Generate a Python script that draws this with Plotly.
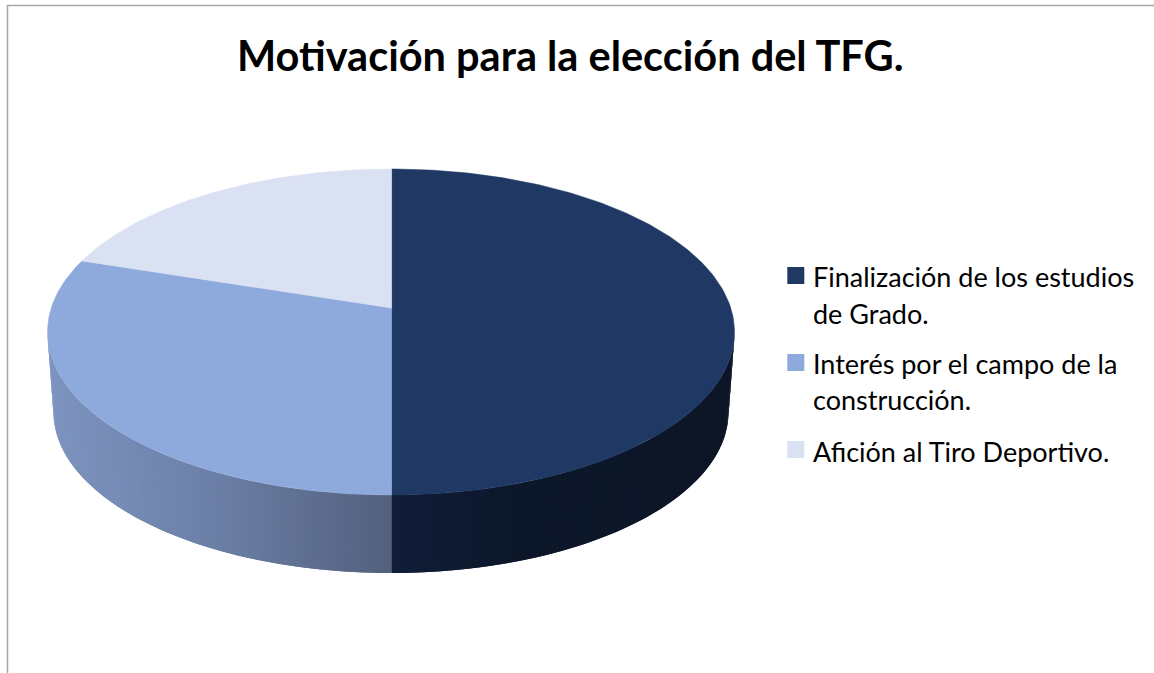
import math
import plotly.graph_objects as go

title = "Motivación para la elección del TFG."
categories = ["Finalización de los estudios de Grado.", "Interés por el campo de la construcción.", "Afición al Tiro Deportivo."]
values = [50, 30, 20]
top_colors = ["#1F3864", "#8EA9DB", "#D9E1F2"]
legend_colors = ["#1F3864", "#8EA9DB", "#D9E2F3"]
legend_lines = [["Finalización de los estudios", "de Grado."], ["Interés por el campo de la", "construcción."], ["Afición al Tiro Deportivo."]]

# canvas-sized data space
W, H = 1154, 673
CX, TOP_CY, TOP_RY, TOP_RX = 391.0, 332.0, 163.0, 343.5
BOT_CY, BOT_RX, BOT_RY = 412.0, 337.5, 161.0
B = 0.147  # perspective shift of the pie centre
SPLIT_X = 391.6  # x of the vertical seam between the slices

# side shading stops: (x, rgb)
side_mid = [(50, (125, 148, 192)), (220, (107, 126, 165)), (391, (83, 96, 126))]
side_dark = [(391, (16, 29, 56)), (520, (12, 23, 42)), (730, (13, 22, 38))]


def shade(stops, x):
    x = max(stops[0][0], min(stops[-1][0], x))
    for (x0, c0), (x1, c1) in zip(stops, stops[1:]):
        if x0 <= x <= x1:
            f = (x - x0) / (x1 - x0)
            return "rgb(%d,%d,%d)" % tuple(round(a + (b - a) * f) for a, b in zip(c0, c1))


def project(angle):
    """clockwise pie angle from 12 o'clock -> point on the top ellipse"""
    u, v = math.sin(angle), math.cos(angle)
    d = 1 + B * v
    return SPLIT_X + (TOP_RX * u * math.sqrt(1 - B * B) / d) + (CX - SPLIT_X) * abs(u), TOP_CY - TOP_RY * (v + B) / d


fig = go.Figure()

# side wall: overlapping quads painted left to right
for deg in range(180, 360):
    stop = min(deg + 2, 270 if deg < 270 else 360)
    a0, a1 = math.radians(deg), math.radians(stop)
    am = math.radians(deg + 0.5)
    xs = [CX + TOP_RX * math.cos(a0), SPLIT_X if stop == 270 else CX + TOP_RX * math.cos(a1),
          SPLIT_X if stop == 270 else CX + BOT_RX * math.cos(a1), CX + BOT_RX * math.cos(a0)]
    if deg == 270:
        xs[0] = xs[3] = SPLIT_X
    ys = [TOP_CY - TOP_RY * math.sin(a0), TOP_CY - TOP_RY * math.sin(a1), BOT_CY - BOT_RY * math.sin(a1), BOT_CY - BOT_RY * math.sin(a0)]
    c = shade(side_mid if deg < 270 else side_dark, CX + TOP_RX * math.cos(am))
    fig.add_trace(go.Scatter(x=xs + xs[:1], y=ys + ys[:1], mode="none", fill="toself", fillcolor=c,
                             hoverinfo="skip", showlegend=False))

# top face, slices from the values
total = sum(values)
cum = 0
centre = (SPLIT_X, TOP_CY - TOP_RY * B)
for name, val, col in zip(categories, values, top_colors):
    start = 2 * math.pi * cum / total
    end = 2 * math.pi * (cum + val) / total
    n = max(2, val * 4)
    pts = [project(start + (end - start) * i / n) for i in range(n + 1)]
    xs = [centre[0]] + [p[0] for p in pts] + [centre[0]]
    ys = [centre[1]] + [p[1] for p in pts] + [centre[1]]
    fig.add_trace(go.Scatter(x=xs, y=ys, mode="lines", fill="toself", fillcolor=col,
                             line=dict(color=col, width=0.5), name=name, showlegend=False))
    cum += val

# legend swatches and labels
swatch_x = 795.8
swatch_y = [275.5, 362.5, 449.5]
line_y = [[276.5, 313], [363.5, 399], [451]]
fig.add_trace(go.Scatter(x=[swatch_x] * 3, y=swatch_y, mode="markers", hoverinfo="skip", showlegend=False,
                         marker=dict(symbol="square", size=17, color=legend_colors, line=dict(width=0))))
annotations = []
for lines, ys in zip(legend_lines, line_y):
    for txt, y in zip(lines, ys):
        annotations.append(dict(x=812, y=y, xref="x", yref="y", text=txt, showarrow=False, xanchor="left",
                                yanchor="middle", xshift=-1, font=dict(family="Lato", size=27, color="#000000")))
annotations.append(dict(x=570, y=55, xref="x", yref="y", text="<b>%s</b>" % title, showarrow=False,
                        xanchor="center", yanchor="middle", font=dict(family="Lato", size=41.5, color="#000000")))

# chart frame (left and top only are in view)
fig.add_trace(go.Scatter(x=[7.5, 7.5, W], y=[H, 5.5, 5.5], mode="lines", line=dict(color="#A6A6A6", width=1.5),
                         hoverinfo="skip", showlegend=False))

fig.update_layout(width=W, height=H, margin=dict(l=0, r=0, t=0, b=0), paper_bgcolor="white", plot_bgcolor="white",
                  xaxis=dict(range=[0, W], visible=False, fixedrange=True),
                  yaxis=dict(range=[H, 0], visible=False, fixedrange=True),
                  annotations=annotations, showlegend=False)
fig.write_html("out.html", config={"displayModeBar": False},
               post_script="document.body.style.margin='0';document.body.style.overflow='hidden';")
